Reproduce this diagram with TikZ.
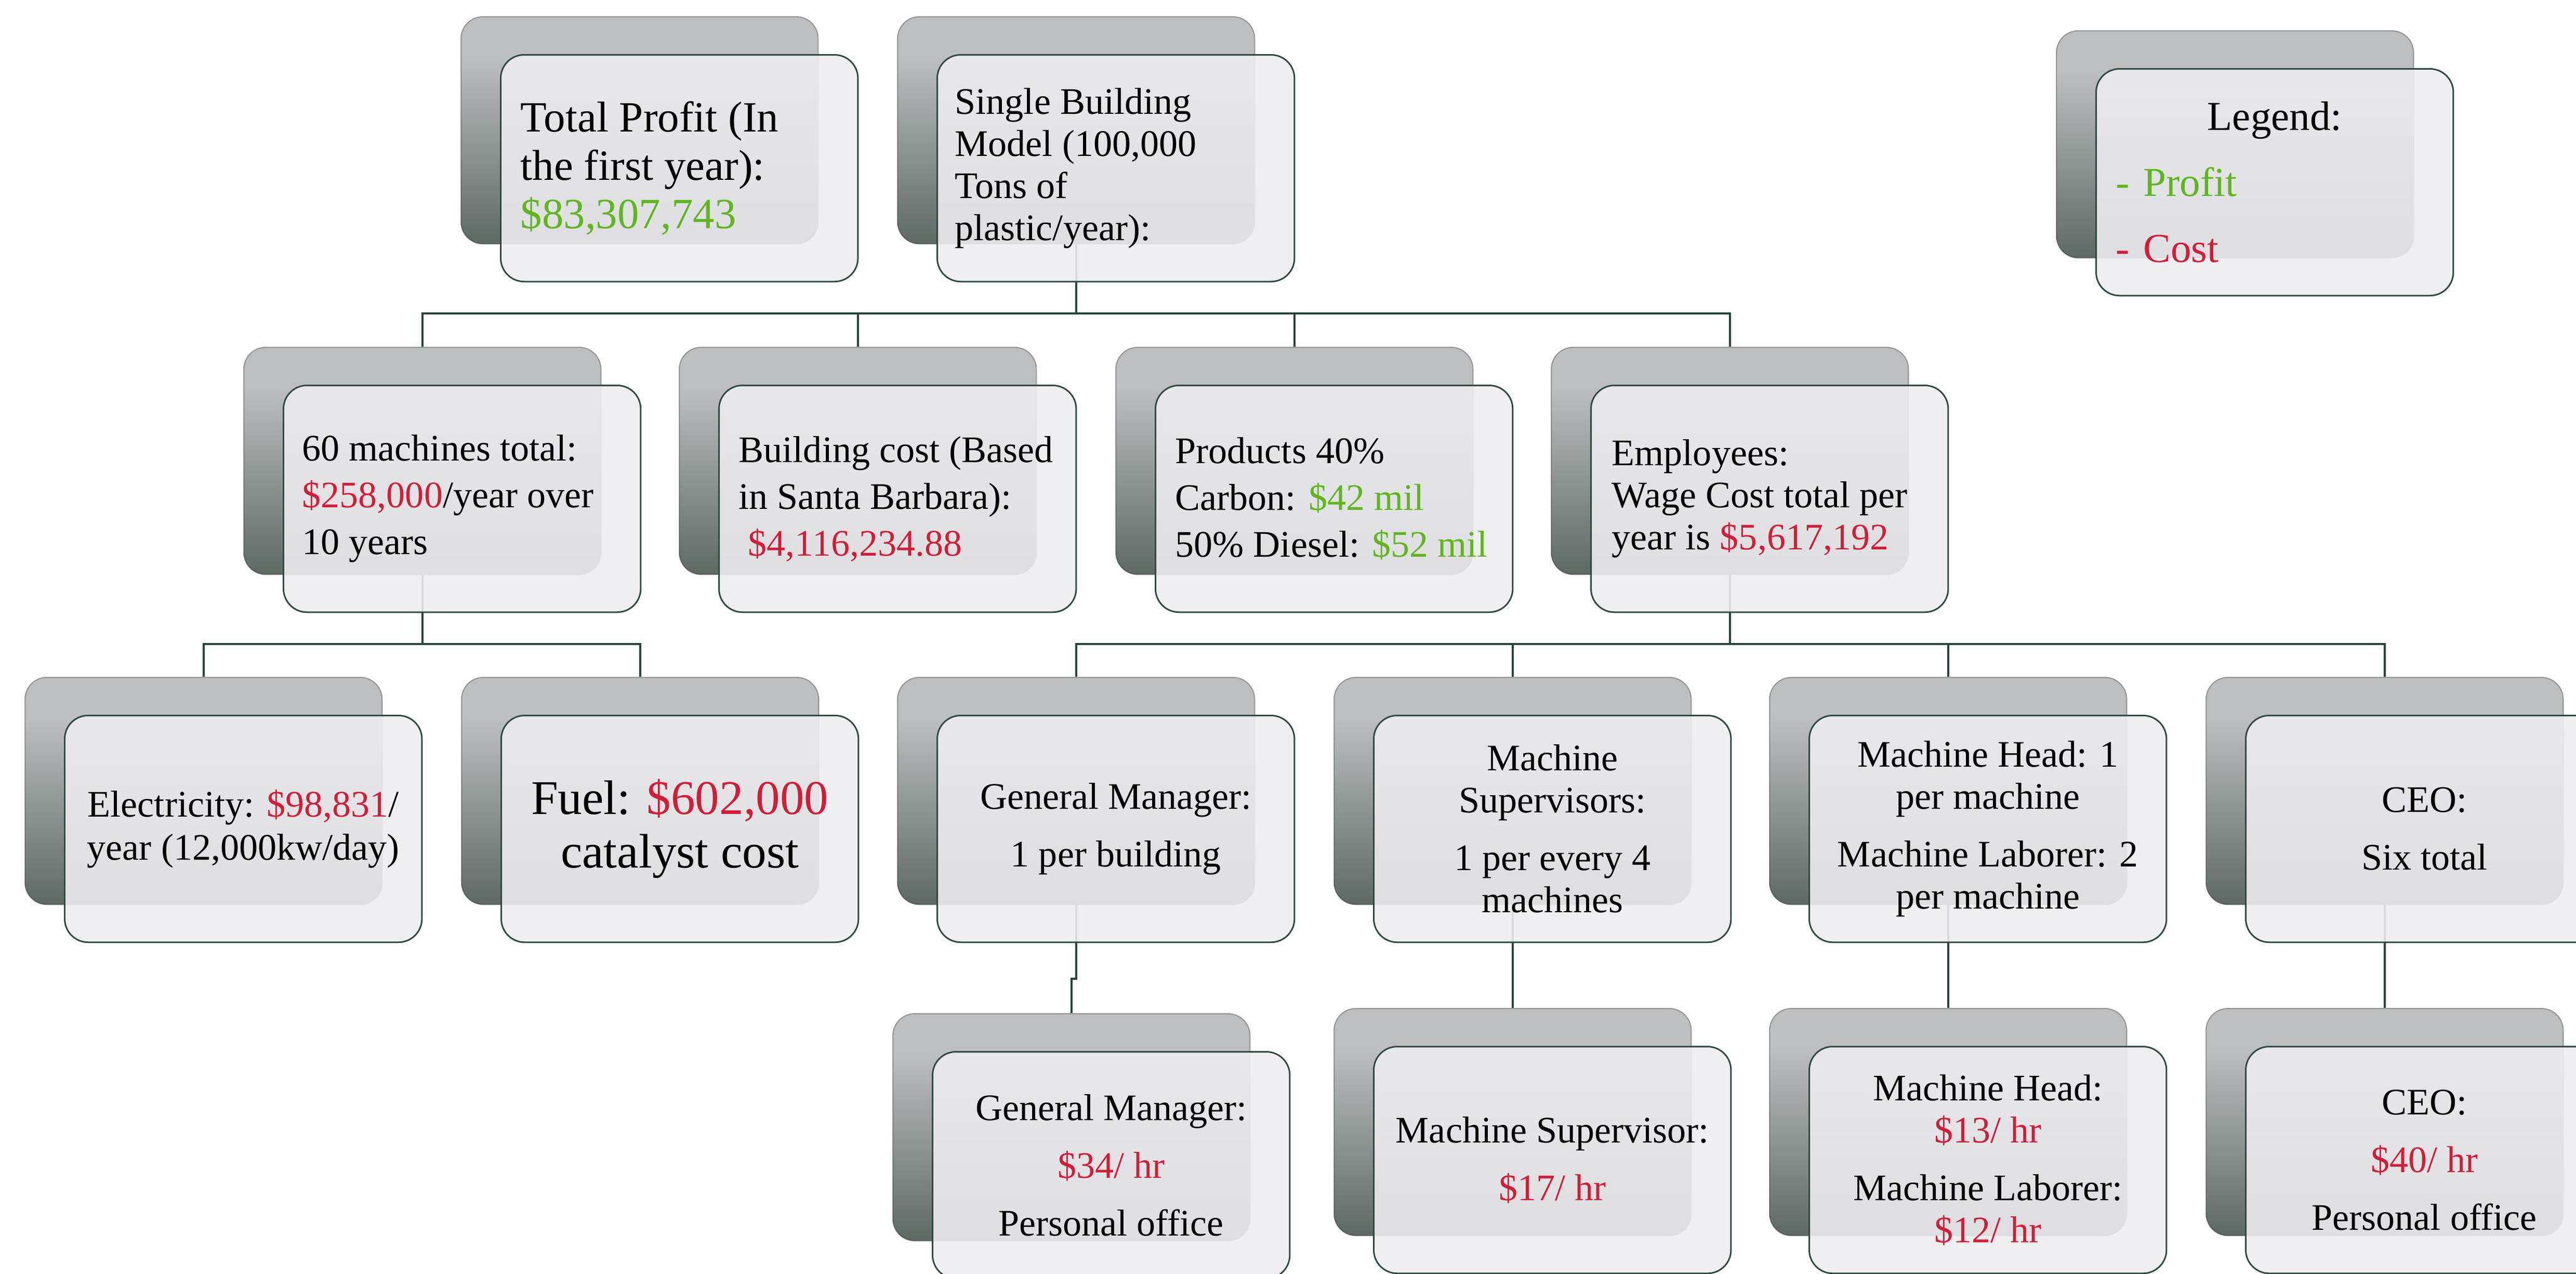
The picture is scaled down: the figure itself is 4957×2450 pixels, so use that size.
\documentclass[tikz,border=0pt]{standalone}
\usepackage{fontspec}
\setmainfont{Liberation Serif}
\usetikzlibrary{calc}
\definecolor{bktop}{RGB}{189,190,192}
\definecolor{bkbot}{RGB}{94,105,100}
\definecolor{frontfill}{RGB}{237,236,240}
\definecolor{boxline}{RGB}{47,74,64}
\definecolor{connc}{RGB}{40,68,58}
\definecolor{profitgreen}{RGB}{96,181,32}
\definecolor{costred}{RGB}{208,30,56}
\pgfdeclareverticalshading{backshade}{100bp}{color(0bp)=(bkbot); color(25bp)=(bkbot); color(66bp)=(bktop); color(100bp)=(bktop)}
\pgfdeclarelayer{background}
\pgfsetlayers{background,main}
\newcommand\grn[1]{\textcolor{profitgreen}{#1}}
\newcommand\rdc[1]{\textcolor{costred}{#1}}
\begin{document}
\begin{tikzpicture}[x=0.01cm,y=-0.01cm,
  backbox/.style={rectangle, rounded corners=0.42cm, minimum width=6.87cm, minimum height=4.37cm, inner sep=0pt, shading=backshade, draw=black, draw opacity=0.3, line width=0.6pt, anchor=north west},
  frontbox/.style={rectangle, rounded corners=0.45cm, minimum width=6.87cm, minimum height=4.36cm, inner sep=0pt, fill=frontfill, fill opacity=0.9, draw=boxline, line width=0.85pt, anchor=north west},
  conn/.style={draw=connc, line width=1.1pt},
  ltxt/.style={align=left, inner sep=0pt, anchor=west},
  ctxt/.style={align=center, inner sep=0pt},
  fbig/.style={font=\fontsize{23.6pt}{26.5pt}\selectfont},
  fstd/.style={font=\fontsize{20.5pt}{23.05pt}\selectfont},
  frow/.style={font=\fontsize{20.5pt}{25.6pt}\selectfont},
  felec/.style={font=\fontsize{20.5pt}{23.6pt}\selectfont},
  ffuel/.style={font=\fontsize{26.5pt}{29.3pt}\selectfont},
  fleg/.style={font=\fontsize{22.5pt}{36.1pt}\selectfont}]
\useasboundingbox (0,0) rectangle (4957,2450);
\clip (0,0) rectangle (4957,2450);

% top row
\node[backbox] (TPb) at (886,31) {};
\node[frontbox] (TPf) at (962,104) {};
\node[ltxt, fbig] (TPt) at ([xshift=0.39cm]TPf.west) {Total Profit (In\\the first year):\\\grn{\$83,307,743}};

\node[backbox] (SBb) at (1726,31) {};
\node[frontbox] (SBf) at (1802,104) {};
\node[ltxt, fstd] (SBt) at ([xshift=0.35cm]SBf.west) {Single Building\\Model (100,000\\Tons of\\plastic/year):};

\node[backbox] (LGb) at (3956,58) {};
\node[frontbox] (LGf) at (4032,131) {};
\node[ctxt, fleg, text width=6.11cm, align=left] (LGt) at (LGf.center) {\makebox[6.11cm]{Legend:}\\\grn{- Profit}\\\rdc{- Cost}};

% second row
\node[backbox] (Ab) at (468,667) {};
\node[frontbox] (Af) at (544,740) {};
\node[ltxt, frow] (At) at ([xshift=0.37cm]Af.west) {60 machines total:\\\rdc{\$258,000}/year over\\10 years};

\node[backbox] (Bb) at (1306,667) {};
\node[frontbox] (Bf) at (1382,740) {};
\node[ltxt, frow] (Bt) at ([xshift=0.39cm]Bf.west) {Building cost (Based\\in Santa Barbara):\\\hspace*{0.18cm}\rdc{\$4,116,234.88}};

\node[backbox] (Cb) at (2146,667) {};
\node[frontbox] (Cf) at (2222,740) {};
\node[ltxt, frow] (Ct) at ([xshift=0.39cm]Cf.west) {Products 40\%\\Carbon: \grn{\$42 mil}\\50\% Diesel: \grn{\$52 mil}};

\node[backbox] (Db) at (2984,667) {};
\node[frontbox] (Df) at (3060,740) {};
\node[ltxt, fstd] (Dt) at ([xshift=0.41cm]Df.west) {Employees:\\Wage Cost total per\\year is \rdc{\$5,617,192}};

% third row
\node[backbox] (Elb) at (47,1302) {};
\node[frontbox] (Elf) at (123,1375) {};
\node[ctxt, felec] (Elt) at (Elf.center) {Electricity: \rdc{\$98,831}/\\year (12,000kw/day)};

\node[backbox] (Fub) at (887,1302) {};
\node[frontbox] (Fuf) at (963,1375) {};
\node[ctxt, ffuel] (Fut) at (Fuf.center) {Fuel: \rdc{\$602,000}\\catalyst cost};

\node[backbox] (GMb) at (1726,1302) {};
\node[frontbox] (GMf) at (1802,1375) {};
\node[ctxt, fstd] (GMt) at (GMf.center) {General Manager:\\[8.5pt]1 per building};

\node[backbox] (MSb) at (2566,1302) {};
\node[frontbox] (MSf) at (2642,1375) {};
\node[ctxt, fstd] (MSt) at (MSf.center) {Machine\\Supervisors:\\[8.5pt]1 per every 4\\machines};

\node[backbox] (MHb) at (3404,1302) {};
\node[frontbox] (MHf) at (3480,1375) {};
\node[ctxt, fstd] (MHt) at (MHf.center) {Machine Head: 1\\per machine\\[8.5pt]Machine Laborer: 2\\per machine};

\node[backbox] (CEb) at (4244,1302) {};
\node[frontbox] (CEf) at (4320,1375) {};
\node[ctxt, fstd] (CEt) at (CEf.center) {CEO:\\[8.5pt]Six total};

% fourth row
\node[backbox] (GM2b) at (1717,1949) {};
\node[frontbox] (GM2f) at (1793,2022) {};
\node[ctxt, fstd] (GM2t) at (GM2f.center) {General Manager:\\[8.5pt]\rdc{\$34/ hr}\\[8.5pt]Personal office};

\node[backbox] (MS2b) at (2566,1939) {};
\node[frontbox] (MS2f) at (2642,2012) {};
\node[ctxt, fstd] (MS2t) at (MS2f.center) {Machine Supervisor:\\[8.5pt]\rdc{\$17/ hr}};

\node[backbox] (MH2b) at (3404,1939) {};
\node[frontbox] (MH2f) at (3480,2012) {};
\node[ctxt, fstd] (MH2t) at (MH2f.center) {Machine Head:\\\rdc{\$13/ hr}\\[8.5pt]Machine Laborer:\\\rdc{\$12/ hr}};

\node[backbox] (CE2b) at (4244,1939) {};
\node[frontbox] (CE2f) at (4320,2012) {};
\node[ctxt, fstd] (CE2t) at (CE2f.center) {CEO:\\[8.5pt]\rdc{\$40/ hr}\\[8.5pt]Personal office};

% connectors
\begin{pgfonlayer}{background}
\coordinate (bus1) at (0,603);
\coordinate (bus2) at (0,1239);
\coordinate (jog) at (0,1883);
\foreach \c in {Ab,Bb,Cb,Db} \draw[conn] (SBb.south) -- (SBb.south |- bus1) -| (\c.north);
\foreach \c in {Elb,Fub} \draw[conn] (Ab.south) -- (Ab.south |- bus2) -| (\c.north);
\foreach \c in {GMb,MSb,MHb,CEb} \draw[conn] (Db.south) -- (Db.south |- bus2) -| (\c.north);
\draw[conn] (GMb.south) -- (GMb.south |- jog) -| (GM2b.north);
\draw[conn] (MSb.south) -- (MS2b.north);
\draw[conn] (MHb.south) -- (MH2b.north);
\draw[conn] (CEb.south) -- (CE2b.north);
\end{pgfonlayer}
\end{tikzpicture}
\end{document}
